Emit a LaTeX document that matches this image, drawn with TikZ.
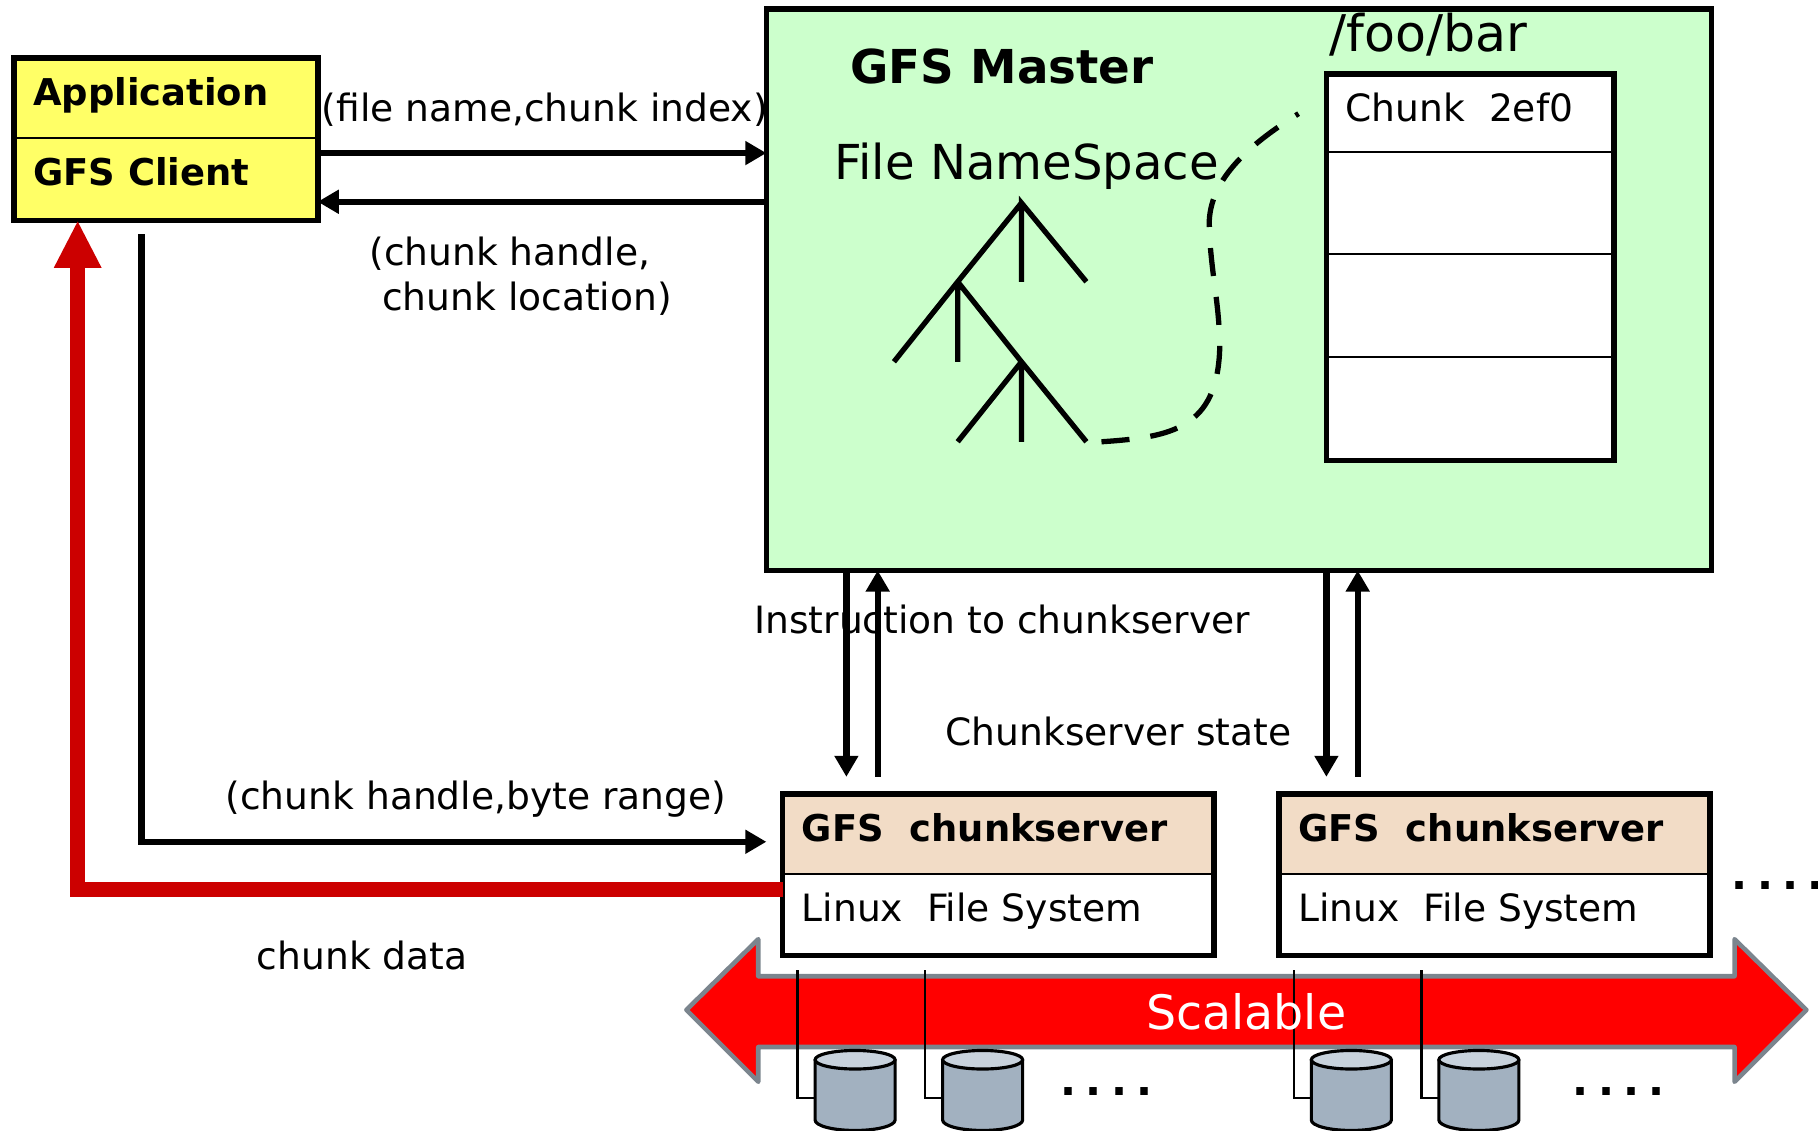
\documentclass[tikz,border=0pt]{standalone}
\usepackage{fontspec}
\setmainfont{DejaVu Sans}
\newfontfamily\spreadfont[LetterSpace=22]{DejaVu Sans Bold}
\usetikzlibrary{arrows.meta}
\definecolor{clientcol}{HTML}{FFFF66}
\definecolor{mastercol}{HTML}{CCFFCC}
\definecolor{servercol}{HTML}{F2DCC6}
\definecolor{readcol}{HTML}{CC0000}
\definecolor{edgecol}{HTML}{7B858E}
\definecolor{diskcol}{HTML}{A2B1C0}
\definecolor{disktopcol}{HTML}{C8D2DC}
\def\u{0.011594cm}
\tikzset{
  boxnode/.style={draw, line width=1.6pt, anchor=north west, inner sep=0pt, outer sep=0pt},
  txt/.style={anchor=base west, inner sep=0pt, font=\fontsize{10.7}{12}\selectfont},
  head/.style={txt, font=\fontsize{10.5}{12}\selectfont\bfseries},
  flow/.style={line width=1.8pt, -{Triangle[length=6pt,width=6.5pt]}},
  tree/.style={line width=1.5pt},
  dots/.style={anchor=base west, inner sep=0pt, font=\fontsize{12}{12}\spreadfont},
}
\begin{document}
\begin{tikzpicture}[x=\u, y=-\u, line join=miter]
  \useasboundingbox (0,0) rectangle (1568,975);
  % boxes
  \node[boxnode, fill=clientcol, minimum width=262*\u, minimum height=140*\u] (client) at (12,50) {};
  \node[boxnode, fill=mastercol, minimum width=815*\u, minimum height=484*\u] (master) at (661,8) {};
  \node[boxnode, fill=white, minimum width=248*\u, minimum height=333*\u] (table) at (1144,64) {};
  \node[boxnode, fill=white, minimum width=372*\u, minimum height=139*\u] (serverA) at (675,685) {};
  \node[boxnode, fill=white, minimum width=372*\u, minimum height=139*\u] (serverB) at (1103,685) {};
  \foreach \s in {serverA,serverB}{
    \fill[servercol] (\s.north west) rectangle (\s.east |- 0,754);
    \draw[line width=1.6pt] (\s.north west) rectangle (\s.south east);
    \draw[line width=.7pt] (\s.west |- 0,754) -- (\s.east |- 0,754);
  }
  \draw[line width=.5pt] (client.west |- 0,119) -- (client.east |- 0,119);
  \foreach \y in {131,219,308}
  \draw[line width=.7pt] (table.west |- 0,\y) -- (table.east |- 0,\y);
  % scalable arrow
  \draw[edgecol, fill=red, line width=1.3pt, line join=round] (592,871)--(654,810)--(654,842)--(1496,842)--(1496,810)--(1558,871)--(1496,933)--(1496,903)--(654,903)--(654,933)--cycle;
  % disks
  \foreach \x in {688,798,1116,1226}{
    \draw[line width=.7pt] (\x,837)--(\x,947)--(\x+15,947);
    \draw[fill=diskcol, line width=.9pt] (\x+15,914)--(\x+15,966) arc[start angle=180, end angle=0, x radius=34.5, y radius=9]--(\x+84,914);
    \draw[fill=disktopcol, line width=.9pt] (\x+49.5,914) ellipse[x radius=34.5, y radius=8];
  }
  % tree
  \path (881,175) coordinate (r) (826,243) coordinate (n1) (881,312) coordinate (n2);
  \draw[tree] (881,243)--(r)--(937,243) (r)--(n1)--(771,312) (n1)--(826,312) (n1)--(n2)--(826,381) (n2)--(881,381) (n2)--(937,381);
  \draw[line width=1.5pt, dash pattern=on 8pt off 6pt] (950,381) .. controls (1010,377) and (1050,370) .. (1052,300) .. controls (1052,260) and (1043,230) .. (1043,190) .. controls (1045,150) and (1085,120) .. (1120,98);
  % connectors
  \draw[flow] (client.east |- 0,132) -- (master.west |- 0,132);
  \draw[flow] (master.west |- 0,174) -- (client.east |- 0,174);
  \path (122,202) coordinate (readstart) (122,726) coordinate (readbend) (661,726) coordinate (readend);
  \draw[flow] (readstart) -- (readbend) -- (readend);
  \coordinate (databend) at (67,767);
  \draw[readcol, line width=4.4pt, -{Triangle[length=13.5pt,width=12.5pt]}] (serverA.west |- databend) -- (databend) -- (databend |- client.south);
  \foreach \x in {730,1144}
  \draw[flow] (master.south -| \x,0) -- (\x,670);
  \foreach \x in {757,1171}
  \draw[flow] (\x,670) -- (master.south -| \x,0);
  % labels
  \node[head] (tapp) at (28,91) {Application};
  \node[head] (tcli) at (28,160) {GFS Client};
  \node[head, font=\fontsize{13.3}{15}\selectfont\bfseries] (tmaster) at (733,72) {GFS Master};
  \node[txt, font=\fontsize{13.7}{15}\selectfont] (tspace) at (719,155) {File NameSpace};
  \node[txt, font=\fontsize{14.4}{15}\selectfont] (tfoo) at (1146,44) {/foo/bar};
  \node[txt] (tchunk) at (1160,105) {Chunk\ \ 2ef0};
  \node[txt] (treq) at (277,105) {(file name,chunk index)};
  \node[txt] (tresa) at (318,229) {(chunk handle,};
  \node[txt] (tresb) at (329,268) {chunk location)};
  \node[txt] (tinst) at (650,546) {Instruction to chunkserver};
  \node[txt] (tstate) at (815,643) {Chunkserver state};
  \node[txt] (trange) at (194,698) {(chunk handle,byte range)};
  \node[txt] (tdata) at (221,836) {chunk data};
  \foreach \s/\x in {A/691,B/1119}{
    \node[head] (gfs\s) at (\x,726) {GFS\ \ chunkserver};
    \node[txt] (linux\s) at (\x,795) {Linux\ \ File System};
  }
  \node[txt, text=white, font=\fontsize{13.5}{15}\selectfont] (tscale) at (988,888) {Scalable};
  \foreach \x/\y/\n in {1493/767/a,914/945/b,1356/945/c}
  \node[dots] (dots\n) at (\x,\y) {....};
\end{tikzpicture}
\end{document}
